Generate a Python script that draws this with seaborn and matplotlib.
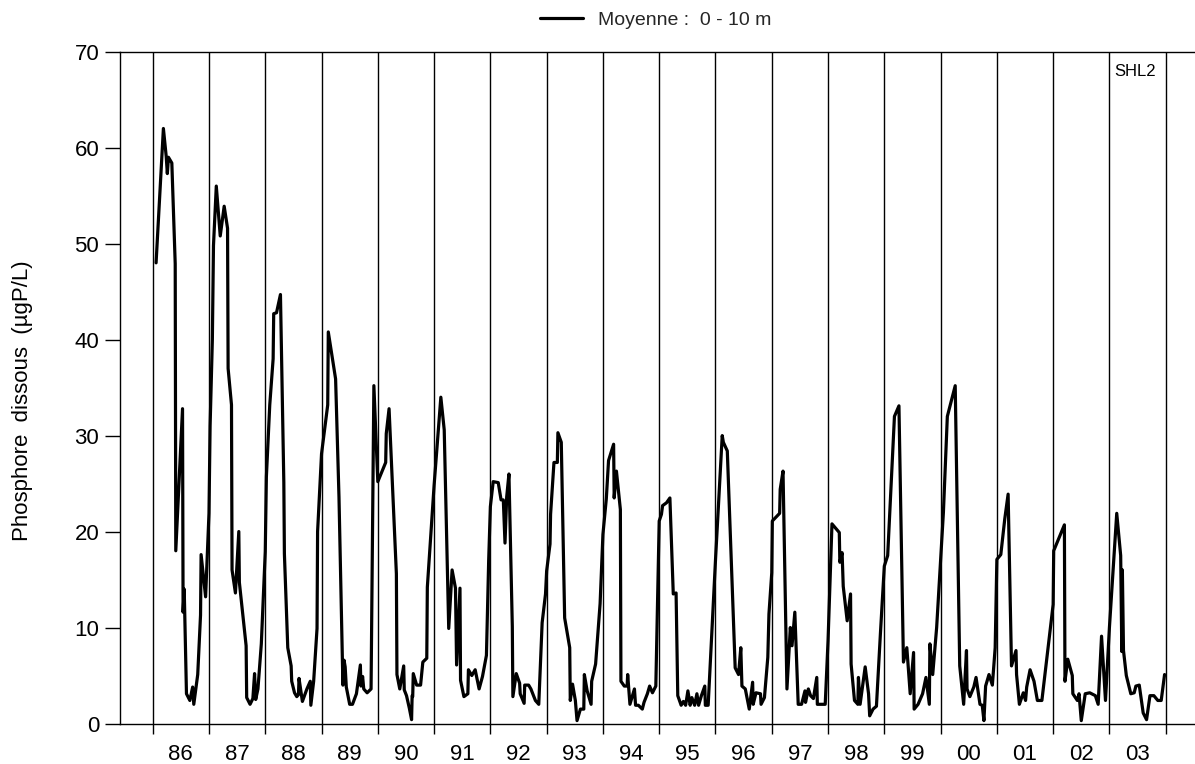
import matplotlib
matplotlib.use("Agg")
import matplotlib.pyplot as plt
import numpy as np
import pandas as pd
import seaborn as sns

# ---------------- data (decimal year offsets from 1900, value in µgP/L) -------------
year_starts = list(range(1986, 2005))
year_labels = ['86', '87', '88', '89', '90', '91', '92', '93', '94',
               '95', '96', '97', '98', '99', '00', '01', '02', '03']
y_ticks = [0, 10, 20, 30, 40, 50, 60, 70]

t_86_89 = [86.06, 86.19, 86.24, 86.26, 86.28, 86.34, 86.40, 86.41, 86.53, 86.54, 86.56,
           86.60, 86.66, 86.71, 86.73, 86.80, 86.85, 86.86, 86.94, 87.00, 87.02, 87.06,
           87.08, 87.13, 87.20, 87.27, 87.33, 87.34, 87.40, 87.41, 87.47, 87.53, 87.54,
           87.66, 87.67, 87.73, 87.78, 87.81, 87.83, 87.87, 87.93, 88.00, 88.02, 88.08,
           88.14, 88.15, 88.20, 88.27, 88.33, 88.34, 88.40, 88.46, 88.47, 88.52, 88.56,
           88.59, 88.60, 88.66, 88.74, 88.80, 88.81, 88.86, 88.92, 88.93]
v_86_89 = [48.0, 62.0, 59.1, 57.3, 59.0, 58.4, 47.9, 18.0, 32.8, 11.6, 14.0,
           3.1, 2.4, 3.8, 2.0, 5.1, 11.3, 17.6, 13.2, 21.9, 31.0, 40.0,
           49.8, 56.0, 50.8, 53.9, 51.6, 37.0, 33.2, 16.0, 13.6, 20.0, 14.7,
           8.1, 2.7, 2.0, 2.6, 5.2, 2.5, 3.6, 8.3, 17.9, 25.7, 33.2,
           38.0, 42.7, 42.8, 44.7, 25.1, 17.7, 7.9, 6.0, 4.4, 3.2, 2.8,
           3.0, 4.7, 2.3, 3.6, 4.4, 1.9, 4.4, 9.9, 20.0]

t_89_92 = [89.00, 89.11, 89.12, 89.25, 89.31, 89.37, 89.38, 89.40, 89.42, 89.44, 89.50,
           89.55, 89.62, 89.69, 89.70, 89.73, 89.75, 89.81, 89.88, 89.93, 90.00, 90.14,
           90.15, 90.20, 90.33, 90.34, 90.39, 90.46, 90.47, 90.51, 90.56, 90.60, 90.61,
           90.62, 90.63, 90.69, 90.76, 90.80, 90.87, 90.88, 91.00, 91.12, 91.18, 91.26,
           91.32, 91.38, 91.40, 91.46, 91.47, 91.53, 91.60, 91.61, 91.67, 91.73, 91.80,
           91.86, 91.93, 91.97]
v_89_92 = [28.1, 33.2, 40.8, 35.9, 23.6, 6.9, 4.0, 6.6, 5.9, 3.8, 2.0,
           2.0, 3.1, 6.1, 3.9, 4.9, 3.6, 3.2, 3.6, 35.2, 25.2, 27.2,
           30.2, 32.8, 15.6, 5.1, 3.6, 6.0, 3.5, 2.9, 1.6, 0.4, 2.9,
           2.8, 5.2, 4.0, 4.0, 6.4, 6.8, 14.2, 24.8, 34.0, 30.6, 9.9,
           16.0, 14.1, 6.1, 14.1, 4.5, 2.8, 3.1, 5.6, 5.0, 5.6, 3.6,
           4.9, 7.1, 17.0]

t_92_95 = [92.00, 92.05, 92.14, 92.19, 92.23, 92.26, 92.29, 92.33, 92.39, 92.40, 92.46,
           92.52, 92.53, 92.60, 92.61, 92.68, 92.72, 92.80, 92.86, 92.92, 92.98, 93.00,
           93.06, 93.07, 93.13, 93.19, 93.20, 93.26, 93.32, 93.41, 93.42, 93.46, 93.51,
           93.54, 93.60, 93.66, 93.67, 93.72, 93.79, 93.80, 93.87, 93.95, 94.00, 94.06,
           94.10, 94.19, 94.20, 94.24, 94.31, 94.32, 94.38, 94.43, 94.44, 94.48, 94.56,
           94.58, 94.63, 94.70, 94.73, 94.79, 94.83, 94.88, 94.94]
v_92_95 = [22.6, 25.2, 25.1, 23.3, 23.3, 18.8, 23.6, 26.0, 10.1, 2.8, 5.2,
           4.2, 3.1, 2.1, 4.0, 4.0, 3.6, 2.4, 2.0, 10.5, 13.5, 15.9,
           18.7, 21.8, 27.2, 27.2, 30.3, 29.3, 11.0, 7.9, 2.4, 4.1, 2.4,
           0.3, 1.5, 1.5, 5.1, 3.4, 2.0, 4.4, 6.2, 12.5, 19.7, 23.4,
           27.4, 29.1, 23.5, 26.3, 22.3, 4.4, 3.9, 3.9, 5.1, 2.0, 3.6,
           1.9, 1.9, 1.5, 2.2, 3.1, 3.9, 3.2, 3.9]

t_95_98 = [95.00, 95.04, 95.06, 95.13, 95.19, 95.25, 95.30, 95.33, 95.39, 95.43, 95.47,
           95.51, 95.55, 95.58, 95.63, 95.67, 95.70, 95.75, 95.81, 95.82, 95.87, 96.00,
           96.12, 96.14, 96.21, 96.32, 96.35, 96.41, 96.45, 96.47, 96.53, 96.60, 96.63,
           96.66, 96.67, 96.72, 96.80, 96.81, 96.87, 96.93, 96.95, 97.00, 97.01, 97.14,
           97.15, 97.20, 97.27, 97.33, 97.36, 97.41, 97.47, 97.53, 97.59, 97.60, 97.65,
           97.69, 97.74, 97.80, 97.81, 97.95]
v_95_98 = [21.1, 21.8, 22.7, 23.0, 23.5, 13.5, 13.6, 2.9, 1.9, 2.3, 1.9,
           3.4, 1.9, 2.7, 1.9, 3.1, 1.9, 2.9, 3.9, 1.9, 1.9, 17.0,
           30.0, 29.3, 28.4, 10.7, 5.8, 5.1, 7.9, 3.9, 3.6, 1.5, 2.9,
           4.3, 2.0, 3.2, 3.1, 2.0, 2.7, 6.9, 11.4, 15.7, 21.1, 21.9,
           24.4, 26.3, 3.6, 10.0, 8.1, 11.6, 2.0, 2.0, 3.4, 2.2, 3.6,
           2.9, 2.6, 4.8, 2.0, 2.0]

t_98_01 = [98.00, 98.07, 98.20, 98.21, 98.25, 98.27, 98.34, 98.40, 98.41, 98.47, 98.53,
           98.54, 98.57, 98.66, 98.72, 98.74, 98.80, 98.86, 98.93, 99.00, 99.06, 99.18,
           99.26, 99.34, 99.40, 99.46, 99.52, 99.53, 99.60, 99.68, 99.74, 99.80, 99.81,
           99.86, 99.93, 100.00, 100.05, 100.12, 100.26, 100.34, 100.41, 100.46, 100.47,
           100.52, 100.59, 100.63, 100.67, 100.70, 100.74, 100.77, 100.80, 100.86,
           100.92, 100.97]
v_98_01 = [8.6, 20.8, 19.9, 16.8, 17.8, 14.3, 10.7, 13.5, 6.2, 2.4, 2.0,
           4.8, 2.0, 5.9, 3.1, 0.8, 1.5, 1.8, 9.3, 16.4, 17.5, 32.0,
           33.1, 6.4, 7.9, 3.1, 7.4, 1.5, 2.0, 3.1, 4.8, 2.0, 8.3,
           5.1, 10.0, 17.0, 22.0, 32.0, 35.2, 6.0, 2.0, 7.6, 3.6,
           2.8, 3.8, 4.8, 3.2, 2.0, 1.9, 0.3, 3.9, 5.1,
           4.0, 7.9]

t_01_04 = [101.00, 101.07, 101.14, 101.20, 101.26, 101.34, 101.35, 101.40, 101.47,
           101.51, 101.53, 101.59, 101.66, 101.72, 101.80, 102.00, 102.01, 102.20,
           102.21, 102.26, 102.34, 102.35, 102.43, 102.46, 102.50, 102.57, 102.65,
           102.75, 102.80, 102.86, 102.93, 103.00, 103.13, 103.20, 103.22, 103.23,
           103.25, 103.30, 103.38, 103.44, 103.47, 103.53, 103.60, 103.66, 103.72,
           103.79, 103.86, 103.92, 103.98]
v_01_04 = [17.1, 17.6, 21.3, 23.9, 6.0, 7.6, 5.1, 2.0, 3.2,
           2.4, 3.8, 5.6, 4.4, 2.4, 2.4, 12.4, 18.0, 20.7,
           4.4, 6.7, 5.0, 3.1, 2.4, 3.1, 0.3, 3.1, 3.2,
           2.9, 2.0, 9.1, 2.4, 10.0, 21.9, 17.5, 7.5, 16.0,
           7.6, 5.0, 3.1, 3.2, 3.9, 4.0, 1.1, 0.4, 2.9,
           2.9, 2.4, 2.4, 5.1]

t_all = np.array(t_86_89 + t_89_92 + t_92_95 + t_95_98 + t_98_01 + t_01_04) + 1900
v_all = v_86_89 + v_89_92 + v_92_95 + v_95_98 + v_98_01 + v_01_04
df = pd.DataFrame({'annee': t_all, 'P': v_all})

# ---------------- style ----------------
sns.set_style('white')
plt.rcParams['font.family'] = ['Liberation Sans', 'DejaVu Sans']

W, H = 1195, 764
fig = plt.figure(figsize=(W / 100, H / 100), dpi=100)
left_px, right_px, top_px, bot_px = 120, 1195, 51.7, 723.5
ax = fig.add_axes([left_px / W, 1 - bot_px / H, (right_px - left_px) / W, (bot_px - top_px) / H])

sns.lineplot(data=df, x='annee', y='P', ax=ax, color='black', linewidth=2.3,
             estimator=None, sort=False, label='Moyenne :  0 - 10 m')

px_per_year = (1165.7 - 152.7) / 18
ax.set_xlim(1986 - (152.7 - left_px) / px_per_year, 1986 + (right_px - 152.7) / px_per_year)
ax.set_ylim(0, 70)

# year boundaries: grid lines + outward ticks
ax.set_xticks(year_starts)
ax.set_xticklabels([])
ax.set_xticks([y + 0.5 for y in year_starts[:-1]], minor=True)
ax.set_xticklabels(year_labels, minor=True, fontsize=16)
ax.tick_params(axis='x', which='major', direction='out', length=7.5, width=1.0,
               color='black', bottom=True)
ax.tick_params(axis='x', which='minor', length=0, pad=15, labelcolor='black')
ax.grid(True, axis='x', which='major', color='black', linewidth=1.0)
ax.grid(False, axis='y')

ax.set_yticks(y_ticks)
ax.set_yticklabels([str(v) for v in y_ticks], fontsize=16)
ax.tick_params(axis='y', direction='out', length=11, width=1.0, color='black',
               pad=4, left=True, labelcolor='black')

for s in ['left', 'top', 'bottom']:
    ax.spines[s].set_color('black')
    ax.spines[s].set_linewidth(1.0)
ax.spines['right'].set_visible(False)

ax.set_xlabel('')
ax.set_ylabel('')
fig.text(23 / W, 1 - 401 / H, 'Phosphore  dissous  (µgP/L)', rotation=90,
         ha='center', va='center', fontsize=16, color='black')

fig.text(1114 / W, 1 - 72 / H, 'SHL2', ha='left', va='center', fontsize=12, color='black')

ax.legend(loc='center', bbox_to_anchor=(656 / W, 1 - 20 / H), bbox_transform=fig.transFigure,
          frameon=False, fontsize=14, handlelength=2.2, handletextpad=0.8)

fig.savefig('out.png', dpi=100)
